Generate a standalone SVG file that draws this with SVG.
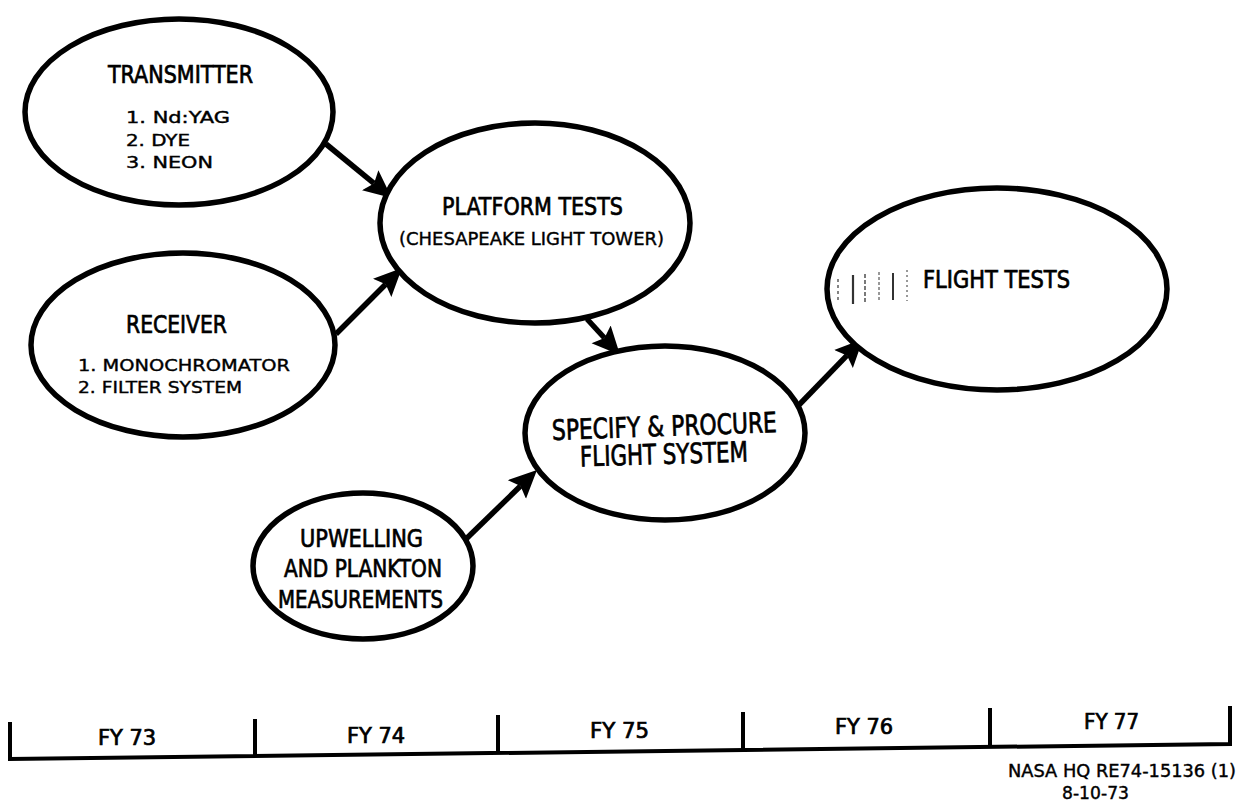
<svg xmlns="http://www.w3.org/2000/svg" width="1237" height="804" viewBox="0 0 1237 804">
<style>
  .node { fill: #ffffff; stroke: #000000; stroke-width: 5.5; }
  .conn { stroke: #000000; stroke-width: 5.5; fill: none; }
  .tl { stroke: #000000; stroke-width: 4; fill: none; stroke-linejoin: miter; }
  .h { font-family: "Liberation Sans Narrow", "DejaVu Sans Condensed", "Liberation Sans", sans-serif; fill: #000; stroke: #000; stroke-width: 0.7; }
  .s { font-family: "DejaVu Sans", "Liberation Sans", sans-serif; fill: #000; stroke: #000; stroke-width: 0.4; }
  .noise { stroke: #333; fill: none; }
</style>
<defs>
  <marker id="arrow" markerUnits="userSpaceOnUse" viewBox="0 -14 30 28" markerWidth="30" markerHeight="28" refX="5" refY="0" orient="auto">
    <path d="M0,-13 L28,0 L0,13 L5,0 z" fill="#000"/>
  </marker>
</defs>
<rect width="1237" height="804" fill="#ffffff"/>

<g id="connectors">
  <line class="conn" x1="326" y1="144" x2="374" y2="183.4" marker-end="url(#arrow)"/>
  <line class="conn" x1="336" y1="334" x2="385.7" y2="284.3" marker-end="url(#arrow)"/>
  <line class="conn" x1="587" y1="319" x2="604.5" y2="338" marker-end="url(#arrow)"/>
  <line class="conn" x1="466" y1="539" x2="520.5" y2="486" marker-end="url(#arrow)"/>
  <line class="conn" x1="796" y1="408" x2="847" y2="355.4" marker-end="url(#arrow)"/>
</g>

<g id="transmitter">
  <ellipse class="node" cx="179" cy="112" rx="154" ry="93"/>
  <text class="h" x="108" y="83" font-size="25" textLength="145" lengthAdjust="spacingAndGlyphs">TRANSMITTER</text>
  <text class="s" x="126" y="123" font-size="15" textLength="104" lengthAdjust="spacingAndGlyphs">1. Nd:YAG</text>
  <text class="s" x="126" y="146" font-size="15" textLength="64" lengthAdjust="spacingAndGlyphs">2. DYE</text>
  <text class="s" x="126" y="168" font-size="15" textLength="87" lengthAdjust="spacingAndGlyphs">3. NEON</text>
</g>

<g id="receiver">
  <ellipse class="node" cx="183" cy="345" rx="152" ry="92"/>
  <text class="h" x="126" y="333" font-size="25" textLength="101" lengthAdjust="spacingAndGlyphs">RECEIVER</text>
  <text class="s" x="78" y="371" font-size="16" textLength="212" lengthAdjust="spacingAndGlyphs">1. MONOCHROMATOR</text>
  <text class="s" x="78" y="393" font-size="16" textLength="164" lengthAdjust="spacingAndGlyphs">2. FILTER SYSTEM</text>
</g>

<g id="platform">
  <ellipse class="node" cx="535" cy="223" rx="155" ry="100"/>
  <text class="h" x="442" y="215" font-size="25" textLength="181" lengthAdjust="spacingAndGlyphs">PLATFORM TESTS</text>
  <text class="s" x="399" y="245" font-size="18" textLength="265" lengthAdjust="spacingAndGlyphs">(CHESAPEAKE LIGHT TOWER)</text>
</g>

<g id="specify">
  <ellipse class="node" cx="665" cy="433" rx="140" ry="87"/>
  <text class="h" x="552" y="436" font-size="28" textLength="225" lengthAdjust="spacingAndGlyphs" transform="rotate(-2 664 430)">SPECIFY &amp; PROCURE</text>
  <text class="h" x="580" y="464" font-size="28" textLength="168" lengthAdjust="spacingAndGlyphs" transform="rotate(-1.7 664 458)">FLIGHT SYSTEM</text>
</g>

<g id="upwelling">
  <ellipse class="node" cx="363" cy="566" rx="110" ry="73"/>
  <text class="h" x="300" y="547" font-size="25" textLength="123" lengthAdjust="spacingAndGlyphs">UPWELLING</text>
  <text class="h" x="284" y="577" font-size="25" textLength="158" lengthAdjust="spacingAndGlyphs">AND PLANKTON</text>
  <text class="h" x="278" y="608" font-size="25" textLength="165" lengthAdjust="spacingAndGlyphs">MEASUREMENTS</text>
</g>

<g id="flight-tests">
  <ellipse class="node" cx="997" cy="289" rx="170" ry="101"/>
  <text class="h" x="923" y="288" font-size="25" textLength="147" lengthAdjust="spacingAndGlyphs">FLIGHT TESTS</text>
  <g class="noise">
    <line x1="838" y1="279" x2="838" y2="300" stroke-width="1.2" stroke-dasharray="3 3"/>
    <line x1="853" y1="275" x2="853" y2="304" stroke-width="2.2"/>
    <line x1="865" y1="274" x2="865" y2="303" stroke-width="1.3" stroke-dasharray="4 2"/>
    <line x1="879" y1="272" x2="879" y2="301" stroke-width="1" stroke-dasharray="3 2"/>
    <line x1="893" y1="273" x2="893" y2="300" stroke-width="2"/>
    <line x1="907" y1="270" x2="907" y2="301" stroke-width="1" stroke-dasharray="2 3"/>
  </g>
</g>

<g id="timeline">
  <path class="tl" d="M10,722 L10,759 L1230,744 L1230,706"/>
  <line class="tl" x1="255" y1="719" x2="255" y2="756"/>
  <line class="tl" x1="498" y1="715" x2="498" y2="753"/>
  <line class="tl" x1="743" y1="712" x2="743" y2="750"/>
  <line class="tl" x1="990" y1="708" x2="990" y2="747"/>
  <text class="h" x="98" y="745" font-size="21" textLength="58" lengthAdjust="spacingAndGlyphs">FY 73</text>
  <text class="h" x="347" y="743" font-size="21" textLength="58" lengthAdjust="spacingAndGlyphs">FY 74</text>
  <text class="h" x="590" y="738" font-size="21" textLength="59" lengthAdjust="spacingAndGlyphs">FY 75</text>
  <text class="h" x="835" y="734" font-size="21" textLength="58" lengthAdjust="spacingAndGlyphs">FY 76</text>
  <text class="h" x="1084" y="729" font-size="21" textLength="55" lengthAdjust="spacingAndGlyphs">FY 77</text>
</g>

<g id="caption">
  <text class="s" x="1008" y="777" font-size="17" textLength="228" lengthAdjust="spacingAndGlyphs">NASA HQ RE74-15136 (1)</text>
  <text class="s" x="1062" y="799" font-size="17" textLength="67" lengthAdjust="spacingAndGlyphs">8-10-73</text>
</g>
</svg>
